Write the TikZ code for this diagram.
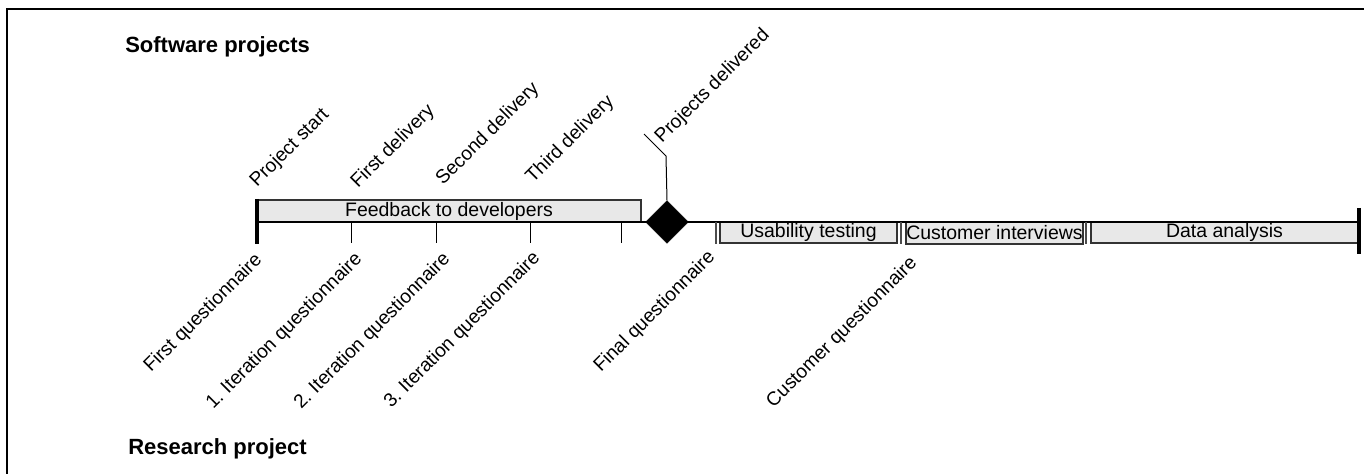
\documentclass[tikz,border=0pt]{standalone}
\usepackage{fontspec}
\setmainfont{Liberation Sans}
\usetikzlibrary{shapes.geometric}
\frenchspacing
\begin{document}
\begin{tikzpicture}[x=0.75pt,y=-0.75pt,
  lbl/.style={font=\fontsize{14.4}{16}\selectfont, inner sep=0pt, rotate=45},
  uplbl/.style={lbl, anchor=base west},
  downlbl/.style={lbl, anchor=base east},
  ttl/.style={font=\fontsize{16.5}{19}\selectfont\bfseries, inner sep=0pt, anchor=base west},
  bar/.style={draw=black!80, fill=black!9, line width=0.8pt, inner sep=0pt,
              font=\fontsize{14.6}{16}\selectfont},
  mainline/.style={line width=1.5pt},
  endtick/.style={line width=2.3pt},
  thintick/.style={line width=0.75pt},
  boxtick/.style={line width=1.1pt, draw=black!70}
]
\useasboundingbox (0,0) rectangle (1364,474);
% frame
\draw[line width=1.1pt] (7,474) -- (7,9) -- (1364,9);

% titles
\node[ttl] (sw) at (125,53) {Software projects};
\node[ttl] (rp) at (128,454) {Research project};

% activity boxes
\node[bar, minimum width=288pt, minimum height=16.5pt] (fb) at (449,211) {Feedback to developers};
\node[bar, minimum width=132.75pt, minimum height=15.75pt] (ut) at (808.5,232.5) {Usability testing};
\node[bar, minimum width=132.75pt, minimum height=16.5pt] (ci) at (994.5,233) {Customer interviews};
\node[bar, minimum width=200.25pt, minimum height=15.75pt] (da) at (1224.5,232.5) {Data analysis};

% timeline
\coordinate (t0) at (257,222);
\coordinate (tend) at (1359,222);
\draw[mainline] (t0) -- (tend);
\draw[endtick] (257,199) -- (257,244);
\draw[endtick] (1359,208) -- (1359,254);
\foreach \x in {351,436,530,621} \draw[thintick] (\x,222) -- (\x,243);
\foreach \x in {716,901,1086} \draw[boxtick] (\x,222) -- (\x,244);

% milestone
\node[diamond, fill=black, draw=black, inner sep=0pt, minimum size=32pt] (dia) at (667,222) {};
\coordinate (bend) at (666,156);
\coordinate (tip) at (644,134);
\draw[thintick] (dia.north) -- (bend) -- (tip);

% labels above
\node[uplbl] (l1) at (257,188) {Project start};
\node[uplbl] (l2) at (358,189) {First delivery};
\node[uplbl] (l3) at (443,186) {Second delivery};
\node[uplbl] (l4) at (533,184) {Third delivery};
\node[uplbl] (l5) at (662,144) {Projects delivered};

% labels below
\node[downlbl] (q1) at (263,261) {First questionnaire};
\node[downlbl] (q2) at (363,260) {1. Iteration questionnaire};
\node[downlbl] (q3) at (451,260) {2. Iteration questionnaire};
\node[downlbl] (q4) at (541,259) {3. Iteration questionnaire};
\node[downlbl] (q5) at (716,258) {Final questionnaire};
\node[downlbl] (q6) at (918,264) {Customer questionnaire};
\end{tikzpicture}
\end{document}
